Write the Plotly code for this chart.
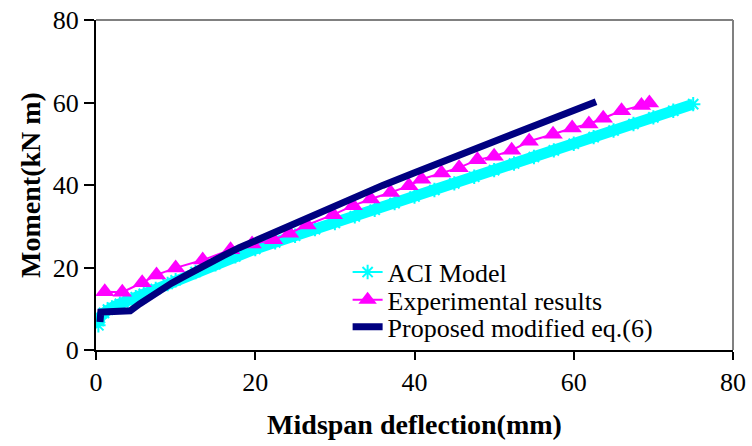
import plotly.graph_objects as go

# ACI Model (cyan)
aci_x = [0.3, 0.5, 1.0, 1.5, 2, 3, 4, 5, 6, 7.5, 9, 10, 12.5, 15, 17.5, 20, 22.5, 25,
         27.5, 30, 32.5, 35, 37.5, 40, 42.5, 45, 47.5, 50, 52.5, 55, 57.5, 60, 62.5,
         65, 67.5, 70, 72.5, 75]
aci_m = [6.0, 7.8, 9.0, 9.8, 10.3, 11.2, 12.0, 12.8, 13.6, 14.8, 16.0, 16.9, 18.9, 20.8,
         22.7, 24.5, 26.1, 27.7, 29.3, 30.8, 32.4, 34.0, 35.6, 37.2, 38.8, 40.4, 42.0,
         43.6, 45.2, 46.8, 48.4, 50.0, 51.6, 53.2, 54.8, 56.4, 58.0, 59.6]

# Experimental results (magenta)
exp_x = [1.1, 3.3, 5.8, 7.6, 10.0, 13.4, 16.9, 19.6, 22.3, 24.3, 26.5, 29.8, 32.3, 34.5,
         37.0, 39.3, 40.9, 43.4, 45.6, 47.9, 50.0, 52.2, 54.4, 57.4, 59.8, 61.9, 63.7,
         66.0, 68.5, 69.5]
exp_m = [14.1, 14.0, 16.3, 18.2, 19.9, 21.8, 24.3, 25.7, 26.7, 28.3, 30.3, 32.8, 35.0,
         36.6, 38.2, 39.8, 41.4, 42.9, 44.2, 46.1, 47.0, 48.4, 50.6, 52.3, 53.8, 54.8,
         56.2, 58.0, 59.3, 59.9]

# Proposed modified eq.(6) (navy)
prop_x = [0.5, 0.6, 1.5, 3.0, 4.3, 5.5, 7.4, 9.5, 11.6, 13.8, 16.0, 18.0, 20.6, 23, 26,
          29, 32.7, 36, 40, 43, 46, 49, 52, 55, 58, 60.5, 62.8]
prop_m = [6.8, 9.2, 9.3, 9.4, 9.5, 11.2, 13.8, 16.2, 18.4, 20.8, 22.9, 24.8, 27.0, 29.0,
          31.5, 34.0, 37.3, 39.9, 43.0, 45.3, 47.6, 49.9, 52.2, 54.4, 56.6, 58.4, 60.2]

ticks = [0, 20, 40, 60, 80]
FONT = "Liberation Serif, Times New Roman, serif"

fig = go.Figure()
fig.add_trace(go.Scatter(x=aci_x, y=aci_m, mode="lines", showlegend=False,
                         line=dict(color="#00FFFF", width=11), hoverinfo="skip"))
fig.add_trace(go.Scatter(x=aci_x, y=aci_m, mode="lines+markers", name="ACI Model",
                         line=dict(color="#00FFFF", width=2),
                         marker=dict(symbol="asterisk-open", size=12,
                                     line=dict(color="#00FFFF", width=2)),
                         legend="legend"))
fig.add_trace(go.Scatter(x=exp_x, y=exp_m, mode="lines+markers", name="Experimental results",
                         line=dict(color="#FF00FF", width=2),
                         marker=dict(symbol="triangle-up", size=17, color="#FF00FF"),
                         legend="legend2"))
fig.add_trace(go.Scatter(x=prop_x, y=prop_m, mode="lines", name="Proposed modified eq.(6)",
                         line=dict(color="#000080", width=7),
                         legend="legend3"))

leg = dict(x=0.395, xanchor="left", yanchor="middle", bgcolor="rgba(0,0,0,0)",
           font=dict(family=FONT, size=26, color="black"), borderwidth=0)

fig.update_layout(
    width=752, height=446,
    margin=dict(l=96, r=19, t=20, b=96),
    paper_bgcolor="white", plot_bgcolor="white",
    font=dict(family=FONT, color="black"),
    legend=dict(leg, y=0.236),
    legend2=dict(leg, y=0.152),
    legend3=dict(leg, y=0.070),
    xaxis=dict(range=[0, 80], tickvals=ticks, ticktext=[str(t) for t in ticks],
               automargin=False, ticklabeloverflow="allow",
               showgrid=False, zeroline=False, showline=True, linecolor="black",
               linewidth=2, ticks="outside", ticklen=8, tickwidth=2, tickcolor="black",
               tickfont=dict(family=FONT, size=26, color="black"),
               title=dict(text="<b>Midspan deflection(mm)</b>", standoff=18,
                          font=dict(family=FONT, size=28, color="black"))),
    yaxis=dict(range=[0, 80], tickvals=ticks, ticktext=[str(t) for t in ticks],
               automargin=False, ticklabeloverflow="allow",
               showgrid=False, zeroline=False, showline=True, linecolor="black",
               linewidth=2, ticks="outside", ticklen=10, tickwidth=2, tickcolor="black",
               tickfont=dict(family=FONT, size=26, color="black"),
               title=dict(text="<b>Moment(kN m)</b>", standoff=4,
                          font=dict(family=FONT, size=28, color="black"))),
    shapes=[
        dict(type="line", xref="paper", yref="paper", x0=0, x1=1, y0=1, y1=1,
             line=dict(color="#808080", width=2)),
        dict(type="line", xref="paper", yref="paper", x0=1, x1=1, y0=0, y1=1,
             line=dict(color="#808080", width=2)),
    ],
)

fig.write_html("out.html", config={"displayModeBar": False},
               post_script="document.body.style.margin='0';document.body.style.overflow='hidden';")
